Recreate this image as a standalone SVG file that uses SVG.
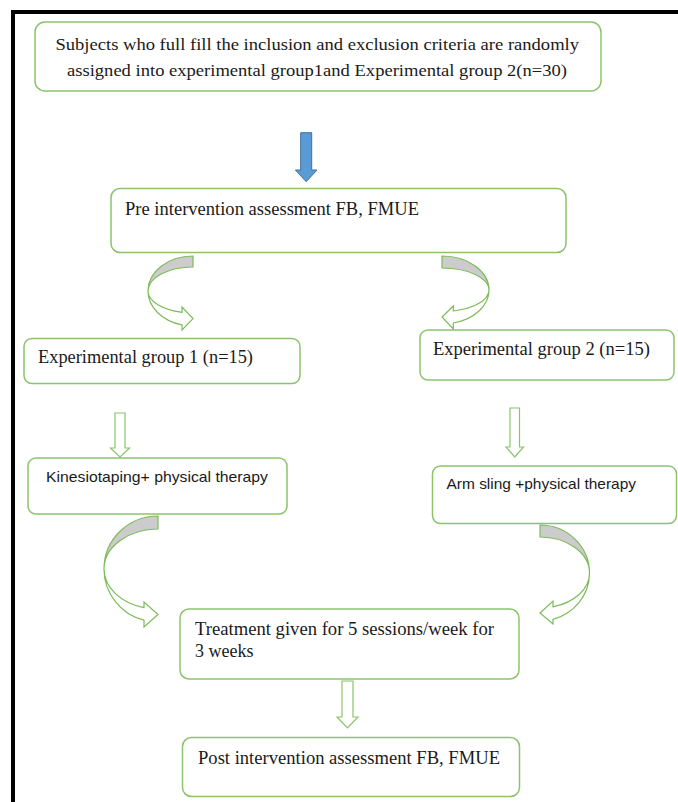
<svg xmlns="http://www.w3.org/2000/svg" width="678" height="802" viewBox="0 0 678 802">
<defs>
<style>
.box{fill:#fff;stroke:#8CC36B;stroke-width:1.5}
.t{font-family:"Liberation Serif","Times New Roman",serif;font-size:18px;fill:#1a1a1a}
.s{font-family:"Liberation Sans",Arial,sans-serif;font-size:14.5px;fill:#1a1a1a}
.ha{fill:#fff;stroke:#8CC36B;stroke-width:1.2;stroke-linejoin:miter}
.cg{fill:#CCCCCC;stroke:#7DBB5A;stroke-width:1.2}
.cw{fill:#fff;stroke:#7DBB5A;stroke-width:1.2}
</style>
</defs>
<rect x="0" y="0" width="678" height="802" fill="#fff"/>
<rect x="13" y="12" width="700" height="820" fill="none" stroke="#000" stroke-width="4"/>

<g id="n1">
<rect class="box" x="35" y="22" width="566" height="69" rx="10"/>
<text class="t" x="55.5" y="50" textLength="523.5" lengthAdjust="spacingAndGlyphs" style="font-size:17px">Subjects who full fill the inclusion and exclusion criteria are randomly</text>
<text class="t" x="67" y="76" textLength="500" lengthAdjust="spacingAndGlyphs" style="font-size:17px">assigned into experimental group1and Experimental group 2(n=30)</text>
</g>

<g id="n2">
<rect class="box" x="111" y="188.5" width="455" height="64" rx="9"/>
<text class="t" x="125" y="215" textLength="294" lengthAdjust="spacingAndGlyphs">Pre intervention assessment FB, FMUE</text>
</g>

<g id="n3">
<rect class="box" x="24" y="338.5" width="276" height="45" rx="8"/>
<text class="t" x="38" y="363" textLength="215" lengthAdjust="spacingAndGlyphs">Experimental group 1 (n=15)</text>
</g>

<g id="n4">
<rect class="box" x="420" y="330" width="254" height="50" rx="8"/>
<text class="t" x="433" y="354.5" textLength="217" lengthAdjust="spacingAndGlyphs">Experimental group 2 (n=15)</text>
</g>

<g id="n5">
<rect class="box" x="28" y="458" width="259" height="56" rx="8"/>
<text class="s" x="46" y="482" textLength="222" lengthAdjust="spacingAndGlyphs">Kinesiotaping+ physical therapy</text>
</g>

<g id="n6">
<rect class="box" x="432.5" y="466" width="244" height="57.5" rx="8"/>
<text class="s" x="446.5" y="488.5" textLength="189.5" lengthAdjust="spacingAndGlyphs">Arm sling +physical therapy</text>
</g>

<g id="n7">
<rect class="box" x="180" y="609" width="339" height="70" rx="9"/>
<text class="t" x="195" y="635" textLength="299" lengthAdjust="spacingAndGlyphs">Treatment given for 5 sessions/week  for</text>
<text class="t" x="195" y="657">3 weeks</text>
</g>

<g id="n8">
<rect class="box" x="182.5" y="737.5" width="337" height="59" rx="9"/>
<text class="t" x="198" y="763.5" textLength="302" lengthAdjust="spacingAndGlyphs">Post intervention assessment FB, FMUE</text>
</g>

<g id="connectors">
<polygon points="300.7,132.7 311.7,132.7 311.7,170 317,170 306.2,181.7 295.4,170 300.7,170" fill="#5B9BD5" stroke="#41719C" stroke-width="1"/>

<path class="cg" d="M193,256 A45,35 0 0 0 148,291 A45,24 0 0 1 193,267 Z"/>
<path class="cw" d="M148,291 A45,35 0 0 0 182,324.9 L182,330 L193,318.6 L182,307 L182,312.3 A45,22 0 0 1 148,291 Z"/>

<path class="cg" d="M442,256 A47,34 0 0 1 489,290 A47,22 0 0 0 442,268 Z"/>
<path class="cw" d="M489,290 A47,34 0 0 1 453.3,323 L453.3,329 L442,317 L453.3,306 L453.3,311 A47,21.6 0 0 0 489,290 Z"/>

<polygon class="ha" points="115,413 125,413 125,448 129.5,448 120,457 110.5,448 115,448"/>
<polygon class="ha" points="510,408 519.5,408 519.5,447 523.5,447 514.75,457 506,447 510,447"/>

<path class="cg" d="M158,516 A54,53 0 0 0 104,569 A54,40 0 0 1 158,529 Z"/>
<path class="cw" d="M104,569 A54,53 0 0 0 144,620.2 L144,627 L158,614.5 L144,602 L144,607.6 A54,40 0 0 1 104,569 Z"/>

<path class="cg" d="M540,525 A49.5,48 0 0 1 589.5,573 A49.5,36 0 0 0 540,537 Z"/>
<path class="cw" d="M589.5,573 A49.5,48 0 0 1 553,619.3 L553,624 L540,613 L553,601 L553,606.8 A49.5,35 0 0 0 589.5,573 Z"/>

<polygon class="ha" points="342,681 353,681 353,717 358,717 347.5,728 337,717 342,717"/>
</g>
</svg>
